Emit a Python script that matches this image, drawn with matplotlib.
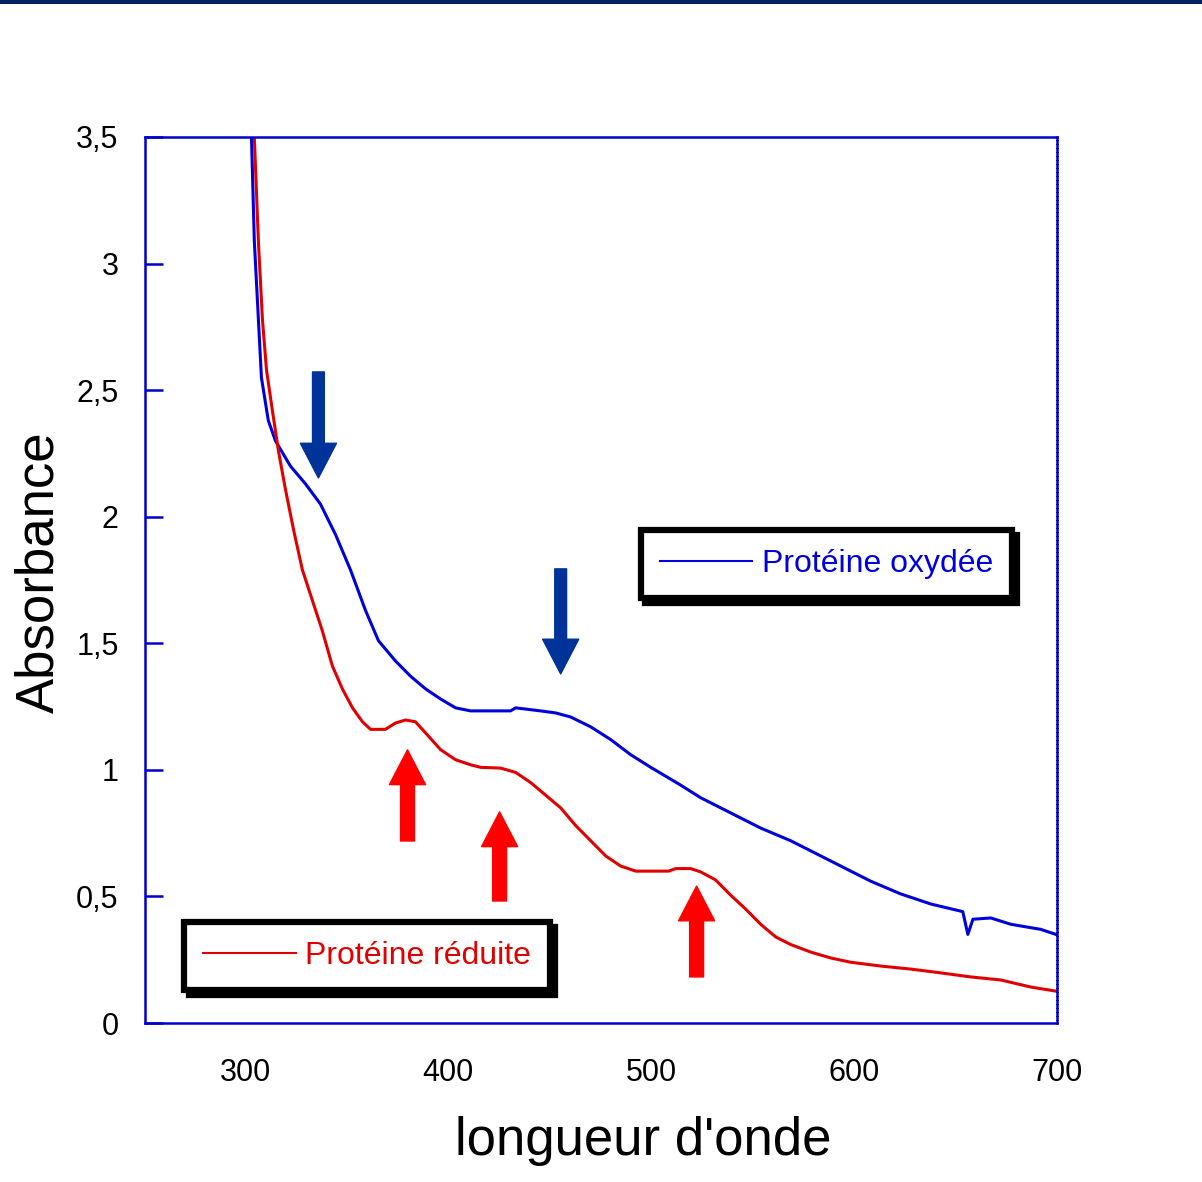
import matplotlib
matplotlib.use('Agg')
import matplotlib.pyplot as plt
from matplotlib.patches import FancyArrowPatch, Rectangle
from matplotlib.lines import Line2D

plt.rcParams['font.family'] = ['Liberation Sans', 'DejaVu Sans']

# spectre protéine oxydée (longueur d'onde nm, absorbance)
wl_ox = [302, 303, 304.4, 307.9, 311.3, 314.8, 322.2, 329.6, 337, 344.4, 351.8,
         359.2, 365.6, 374, 381.4, 388.8, 396.2, 403.6, 411, 430.7, 433.2, 445.5,
         452.9, 460.3, 470.2, 480, 489.9, 499.8, 514.5, 524.4, 539.2, 554, 568.8,
         583.6, 598.4, 608.3, 623, 637.9, 653.6, 656.1, 658.6, 667.4, 677.3, 692, 699.5]
abs_ox = [3.8, 3.5, 3.09, 2.55, 2.38, 2.30, 2.20, 2.13, 2.05, 1.93, 1.79,
          1.63, 1.51, 1.43, 1.37, 1.32, 1.28, 1.245, 1.233, 1.233, 1.245, 1.233,
          1.225, 1.209, 1.17, 1.12, 1.06, 1.01, 0.94, 0.89, 0.83, 0.77, 0.72,
          0.66, 0.60, 0.56, 0.51, 0.47, 0.44, 0.35, 0.41, 0.415, 0.39, 0.37, 0.35]

# spectre protéine réduite
wl_red = [303.5, 304.4, 306.4, 308.4, 310.4, 313.3, 316.3, 319.7, 323.7, 328.1, 333,
          337.9, 342.9, 347.8, 352.8, 357.7, 361.7, 369, 374, 378.9, 383.8, 388.8,
          396.2, 403.6, 411, 416, 425.8, 433.2, 440.6, 448, 455.4, 462.8, 470.2,
          477.6, 485, 492.4, 499.8, 508.6, 512.1, 519.5, 524.4, 531.8, 539.2, 546.6,
          554, 561.4, 568.8, 578.7, 588.5, 598.4, 613.2, 628, 642.8, 657.6, 672.4,
          687.2, 699.5]
abs_red = [3.8, 3.5, 3.09, 2.78, 2.58, 2.42, 2.26, 2.11, 1.95, 1.79, 1.67,
           1.55, 1.41, 1.32, 1.245, 1.19, 1.16, 1.16, 1.185, 1.197, 1.19, 1.146,
           1.08, 1.04, 1.02, 1.01, 1.007, 0.99, 0.95, 0.90, 0.85, 0.78, 0.72,
           0.66, 0.62, 0.60, 0.60, 0.60, 0.61, 0.61, 0.597, 0.565, 0.505, 0.45,
           0.39, 0.34, 0.31, 0.28, 0.257, 0.24, 0.225, 0.213, 0.198, 0.182, 0.17,
           0.142, 0.126]

# flèches (x, absorbance de départ, absorbance de la pointe)
arrows_ox = [(336, 2.572, 2.153), (455.4, 1.794, 1.379)]
arrows_red = [(379.9, 0.719, 1.079), (425.3, 0.482, 0.834), (522.4, 0.182, 0.541)]

yticks = [0, 0.5, 1, 1.5, 2, 2.5, 3, 3.5]
ytick_labels = ['0', '0,5', '1', '1,5', '2', '2,5', '3', '3,5']
xticks = [300, 400, 500, 600, 700]

BLUE = '#0000dd'
RED = '#e00000'
AXBLUE = '#0000cc'

fig = plt.figure(figsize=(12.02, 11.82), dpi=100)
ax = fig.add_axes([0.1206, 0.1345, 0.7587, 0.7496])

ln_ox, = ax.plot(wl_ox, abs_ox, color=BLUE, lw=2.2)
ln_red, = ax.plot(wl_red, abs_red, color=RED, lw=2.2)

ax.set_xlim(250.5, 700)
ax.set_ylim(0, 3.5)

for x, a0, a1 in arrows_ox:
    ax.add_patch(FancyArrowPatch((x, a0), (x, a1), mutation_scale=1,
                                 arrowstyle='simple,head_length=25,head_width=26,tail_width=8.5',
                                 color='#003399', shrinkA=0, shrinkB=0, zorder=4))
for x, a0, a1 in arrows_red:
    ax.add_patch(FancyArrowPatch((x, a0), (x, a1), mutation_scale=1,
                                 arrowstyle='simple,head_length=25,head_width=26,tail_width=10',
                                 color='#ff0000', shrinkA=0, shrinkB=0, zorder=4))

# axes
for s in ['left', 'bottom', 'top']:
    ax.spines[s].set_color(AXBLUE)
    ax.spines[s].set_linewidth(1.8)
ax.spines['right'].set_color(AXBLUE)
ax.spines['right'].set_linewidth(1.8)
ax.spines['right'].set_linestyle((0, (0.8, 0.8)))

ax.set_yticks(yticks)
ax.set_yticklabels(ytick_labels)
ax.set_xticks(xticks)
ax.tick_params(axis='y', direction='in', length=13, width=1.8, color=AXBLUE,
               labelsize=22, pad=19)
ax.tick_params(axis='x', length=0, labelsize=22, pad=25)

ax.set_xlabel("longueur d'onde", fontsize=38)
ax.set_ylabel('Absorbance', fontsize=38, va='center')
ax.xaxis.set_label_coords(0.546, -0.105)
ax.yaxis.set_label_coords(-0.1155, 0.509)


def boxed_legend(line, label, color, anchor):
    h = Line2D([], [], color=line.get_color(), lw=1.5)
    leg = ax.legend([h], [label], loc='upper left', bbox_to_anchor=anchor,
                    bbox_transform=ax.transAxes, borderaxespad=0, fontsize=23,
                    handlelength=2.9, handletextpad=0.3, borderpad=0.6,
                    fancybox=False, framealpha=1, edgecolor='black',
                    shadow={'color': 'black', 'ox': 3.5, 'oy': -3.5, 'alpha': 1})
    leg.get_frame().set_linewidth(4.5)
    for t in leg.get_texts():
        t.set_color(color)
    return leg


leg1 = boxed_legend(ln_ox, 'Protéine oxydée', BLUE, (0.5435, 0.5565))
ax.add_artist(leg1)
boxed_legend(ln_red, 'Protéine réduite', RED, (0.0425, 0.114))

# bandeau en haut
fig.add_artist(Rectangle((0, 1 - 4 / 1182), 1, 4 / 1182, transform=fig.transFigure,
                         color='#001f5f', lw=0))

fig.savefig('out.png', dpi=100)
